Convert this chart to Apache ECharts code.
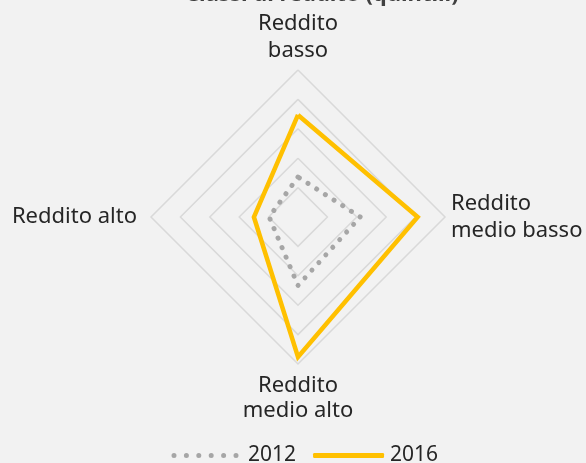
<!DOCTYPE html>
<html>
<head>
<meta charset="utf-8">
<script src="https://cdn.jsdelivr.net/npm/echarts@6/dist/echarts.min.js"></script>
<style>
html,body{margin:0;padding:0;background:#f2f2f2;}
#chart{width:586px;height:463px;}
</style>
</head>
<body>
<div id="chart"></div>
<script>
// Indicators in ECharts order (counter-clockwise from top)
const categories = ['Reddito\nbasso', 'Reddito alto', 'Reddito\nmedio alto', 'Reddito\nmedio basso'];
const seriesNames = ['2012', '2016'];
const values2012 = [1.36, 0.98, 2.33, 2.12];
const values2016 = [3.47, 1.50, 4.76, 4.07];
const maxValue = 5;

const FONT = 'Noto Sans';
const chart = echarts.init(document.getElementById('chart'), null, {renderer: 'canvas'});

// dotted legend icon: 6 dots across a 71px wide slot
let dotPath = 'path://M0,0';
for (let i = 0; i < 6; i++) {
  const cx = 3 + i * 12.4;
  dotPath += 'M' + (cx - 2.5) + ',2.5a2.5,2.5 0 1,0 5,0a2.5,2.5 0 1,0 -5,0Z';
}
dotPath += 'M71,5';

// label styles per direction (top, left, bottom, right)
const labelStyle = {fontFamily: FONT, fontSize: 22, color: '#262626', lineHeight: 27};
const rich = {
  n: Object.assign({}, labelStyle),
  l: Object.assign({}, labelStyle, {padding: [0, 8, 0, 0]}),
  bt: Object.assign({}, labelStyle, {padding: [5, 0, 0, 0]})
};
function fmt(name) {
  const idx = categories.indexOf(name);
  const lines = name.split('\n');
  if (idx === 1) return '{l|' + lines[0] + '}';
  if (idx === 2) return '{bt|' + lines[0] + '}\n{n|' + lines[1] + '}';
  return lines.map(s => '{n|' + s + '}').join('\n');
}

chart.setOption({
  backgroundColor: '#f2f2f2',
  animation: false,
  title: {
    text: 'Classi di reddito (quintili)',
    left: 180,
    top: -21,
    textStyle: {fontFamily: FONT, fontSize: 22, fontWeight: 'bold', color: '#404040'}
  },
  legend: {
    left: 171,
    top: 445,
    padding: 0,
    itemWidth: 71,
    itemHeight: 5,
    itemGap: 17,
    textStyle: {fontFamily: FONT, fontSize: 21, color: '#262626', padding: [0, 0, 0, 1]},
    data: [
      {name: seriesNames[0], icon: dotPath, itemStyle: {color: '#a6a6a6'}},
      {name: seriesNames[1], icon: 'roundRect', itemStyle: {color: '#ffc000'}}
    ]
  },
  radar: {
    center: [298, 217],
    radius: 147,
    startAngle: 90,
    shape: 'polygon',
    splitNumber: 5,
    nameGap: 6,
    axisName: Object.assign({}, labelStyle, {formatter: fmt, rich: rich}),
    splitLine: {lineStyle: {color: '#d9d9d9', width: 1.5}},
    splitArea: {show: false},
    axisLine: {show: false},
    indicator: categories.map(c => ({name: c, max: maxValue, min: 0}))
  },
  series: [{
    type: 'radar',
    symbol: 'none',
    data: [
      {
        name: seriesNames[0],
        value: values2012,
        lineStyle: {color: '#a6a6a6', width: 5, type: [0.01, 10.3], cap: 'round', join: 'round'},
        itemStyle: {color: '#a6a6a6'}
      },
      {
        name: seriesNames[1],
        value: values2016,
        lineStyle: {color: '#ffc000', width: 4.5, type: 'solid', join: 'miter'},
        itemStyle: {color: '#ffc000'}
      }
    ]
  }]
});
</script>
</body>
</html>
